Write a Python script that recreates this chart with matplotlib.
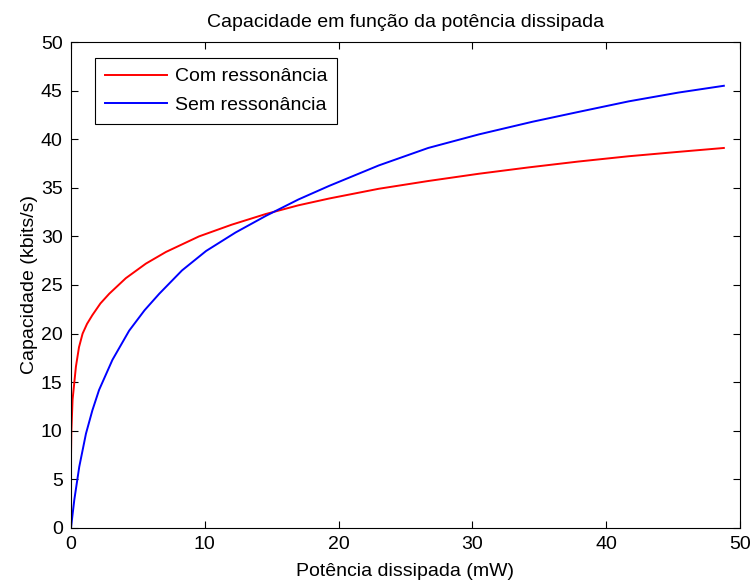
import matplotlib
matplotlib.use("Agg")
import matplotlib.pyplot as plt

plt.rcParams['font.family'] = ['Liberation Sans', 'DejaVu Sans']

# valores (potência em mW, capacidade em kbits/s)
x_com = [0, 0.03, 0.12, 0.37, 0.6, 0.87, 1.2, 1.6, 2.2, 2.86, 4.1, 5.6, 7.1, 9.57,
         12.0, 14.55, 17.0, 19.3, 23.0, 26.7, 30.5, 34.2, 37.9, 41.7, 45.4, 48.8]
y_com = [7.2, 10.0, 13.2, 16.6, 18.6, 20.0, 21.0, 21.9, 23.1, 24.1, 25.7, 27.2, 28.4, 30.0,
         31.2, 32.3, 33.2, 33.9, 34.9, 35.7, 36.45, 37.1, 37.7, 38.25, 38.7, 39.1]

x_sem = [0, 0.25, 0.62, 1.12, 1.6, 2.1, 3.1, 4.35, 5.5, 6.6, 8.3, 10.1, 12.3, 14.55,
         17.0, 19.3, 23.0, 26.7, 30.5, 34.5, 37.9, 41.7, 45.4, 48.8]
y_sem = [0, 2.9, 6.3, 9.7, 12.1, 14.2, 17.3, 20.3, 22.4, 24.1, 26.5, 28.5, 30.4, 32.1,
         33.8, 35.2, 37.3, 39.1, 40.5, 41.8, 42.8, 43.9, 44.8, 45.5]

fs = 14

fig = plt.figure(figsize=(7.55, 5.84), dpi=100)
ax = fig.add_axes([0.094, 0.096, 0.886, 0.832])

ax.plot(x_com, y_com, color='#ff0000', lw=1.4, label='Com ressonância')
ax.plot(x_sem, y_sem, color='#0000ff', lw=1.4, label='Sem ressonância')

ax.set_xlim(0, 50)
ax.set_ylim(0, 50)
ax.set_xticks(range(0, 51, 10))
ax.set_yticks(range(0, 51, 5))
ax.tick_params(direction='in', top=True, right=True, labelsize=fs, length=5, pad=6)
ax.set_xlabel('Potência dissipada (mW)', fontsize=fs, labelpad=7)
ax.set_ylabel('Capacidade (kbits/s)', fontsize=fs, labelpad=2)
ax.set_title('Capacidade em função da potência dissipada', fontsize=fs, pad=11)

leg = ax.legend(loc='upper left', bbox_to_anchor=(24 / 669, 1 - 16 / 486),
                borderaxespad=0, fontsize=fs, fancybox=False, framealpha=1,
                edgecolor='black', handlelength=3.2, handletextpad=0.4,
                borderpad=0.5, labelspacing=0.56)
leg.get_frame().set_linewidth(0.8)

fig.savefig('out.png', dpi=100)
